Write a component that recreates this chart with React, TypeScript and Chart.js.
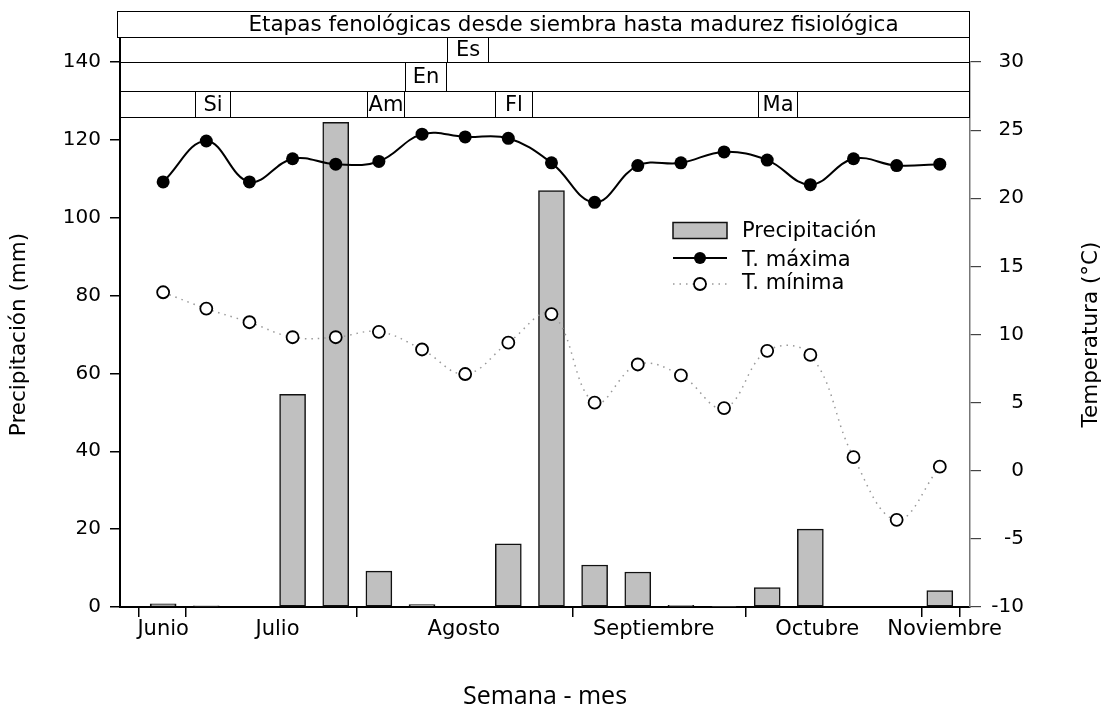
import React, { useEffect, useRef } from 'react';
import { Chart, registerables } from 'chart.js';
Chart.register(...registerables);

// ---- data ----
const WEEKS = [1, 2, 3, 4, 5, 6, 7, 8, 9, 10, 11, 12, 13, 14, 15, 16, 17, 18, 19];
const PRECIP = [0.8, 0.3, 0, 54.6, 124.5, 9.2, 0.6, 0, 16.2, 107.0, 10.8, 9.0, 0.4, 0.2, 5.0, 20.0, 0, 0, 4.2];
const TMAX = [21.2, 24.2, 21.2, 22.9, 22.5, 22.7, 24.7, 24.5, 24.4, 22.6, 19.7, 22.4, 22.6, 23.4, 22.8, 21.0, 22.9, 22.4, 22.5];
const TMIN = [13.1, 11.9, 10.9, 9.8, 9.8, 10.2, 8.9, 7.1, 9.4, 11.5, 5.0, 7.8, 7.0, 4.6, 8.8, 8.5, 1.0, -3.6, 0.3];

const MONTH_LABELS = ['Junio', 'Julio', 'Agosto', 'Septiembre', 'Octubre', 'Noviembre'];
const MONTH_POS = [1.0, 3.65, 7.97, 12.37, 16.16, 19.11];
const MONTH_BOUNDS = [0.44, 1.53, 5.49, 10.49, 14.5, 18.58, 19.46];

const STAGE_LABELS = ['Si', 'Am', 'Fl', 'Ma', 'En', 'Es'];
const STAGE_START = [1.74, 5.73, 8.69, 14.78, 6.61, 7.57];
const STAGE_END = [2.56, 6.58, 9.54, 15.68, 7.55, 8.53];
const STAGE_ROW = [0, 0, 0, 0, 1, 2];
const ROW_EDGES = [125.9, 132.6, 140, 146.3, 153.2]; // in precipitation units
const STAGE_TITLE = 'Etapas fenológicas desde siembra hasta madurez fisiológica';
const STAGE_TITLE_X = 10.51;

const PRECIP_MAX = 140;
const TEMP_MIN = -10;
const TEMP_MAX = 30;
const X_MAX = 19.7;

const FONT = '"DejaVu Sans", sans-serif';

export default function App() {
  const ref = useRef<HTMLCanvasElement>(null);

  useEffect(() => {
    document.body.style.margin = '0';
    const canvas = ref.current!;

    const overlay = {
      id: 'overlay',
      afterDraw(chart: any) {
        const { ctx, chartArea: ca, scales } = chart;
        const xs = scales.x;
        const ys = scales.y;
        ctx.save();
        // stage rows
        ctx.strokeStyle = '#000';
        ctx.lineWidth = 1;
        const yp = (v: number) => Math.round(ys.getPixelForValue(v)) + 0.5;
        for (let i = 0; i < 4; i++) {
          ctx.beginPath();
          ctx.moveTo(ca.left, yp(ROW_EDGES[i]));
          ctx.lineTo(ca.right, yp(ROW_EDGES[i]));
          ctx.stroke();
        }
        ctx.beginPath();
        ctx.moveTo(ca.right - 0.5, yp(ROW_EDGES[3]));
        ctx.lineTo(ca.right - 0.5, yp(ROW_EDGES[0]));
        ctx.stroke();
        ctx.lineWidth = 2;
        ctx.beginPath();
        ctx.moveTo(ca.left, yp(ROW_EDGES[3]));
        ctx.lineTo(ca.left, ys.getPixelForValue(ROW_EDGES[2]));
        ctx.stroke();
        // title box
        ctx.lineWidth = 1;
        const tTop = yp(ROW_EDGES[4]);
        const tBot = yp(ROW_EDGES[3]);
        ctx.strokeRect(ca.left - 2.5, tTop, ca.right - ca.left + 2, tBot - tTop);
        ctx.fillStyle = '#000';
        ctx.font = `21.5px ${FONT}`;
        ctx.textAlign = 'center';
        ctx.textBaseline = 'middle';
        ctx.fillText(STAGE_TITLE, xs.getPixelForValue(STAGE_TITLE_X), (tTop + tBot) / 2 + 1);
        // stage boxes
        ctx.font = `21px ${FONT}`;
        STAGE_LABELS.forEach((lab, i) => {
          const r = STAGE_ROW[i];
          const x0 = Math.round(xs.getPixelForValue(STAGE_START[i])) + 0.5;
          const x1 = Math.round(xs.getPixelForValue(STAGE_END[i])) + 0.5;
          const y0 = yp(ROW_EDGES[r + 1]);
          const y1 = yp(ROW_EDGES[r]);
          ctx.fillStyle = '#fff';
          ctx.fillRect(x0, y0, x1 - x0, y1 - y0);
          ctx.strokeRect(x0, y0, x1 - x0, y1 - y0);
          ctx.fillStyle = '#000';
          ctx.fillText(lab, (x0 + x1) / 2, (y0 + y1) / 2 + 1);
        });

        // legend
        const lx = ca.left + 553;
        const tx = ca.left + 622;
        const rows = [ca.top + 168.5, ca.top + 197.5, ca.top + 221];
        ctx.fillStyle = '#c0c0c0';
        ctx.fillRect(lx, rows[0] - 8, 54, 16);
        ctx.lineWidth = 1.5;
        ctx.strokeStyle = '#111';
        ctx.strokeRect(lx, rows[0] - 8, 54, 16);
        // T max
        ctx.strokeStyle = '#000';
        ctx.lineWidth = 2;
        ctx.beginPath();
        ctx.moveTo(lx, rows[1] - 1.5);
        ctx.lineTo(lx + 54, rows[1] - 1.5);
        ctx.stroke();
        ctx.fillStyle = '#000';
        ctx.beginPath();
        ctx.arc(lx + 27, rows[1] - 1.5, 6, 0, Math.PI * 2);
        ctx.fill();
        // T min
        ctx.strokeStyle = '#999';
        ctx.lineWidth = 1.5;
        ctx.setLineDash([1.5, 5]);
        ctx.beginPath();
        ctx.moveTo(lx, rows[2] + 1);
        ctx.lineTo(lx + 54, rows[2] + 1);
        ctx.stroke();
        ctx.setLineDash([]);
        ctx.fillStyle = '#fff';
        ctx.strokeStyle = '#000';
        ctx.lineWidth = 1.8;
        ctx.beginPath();
        ctx.arc(lx + 27, rows[2] + 1, 6, 0, Math.PI * 2);
        ctx.fill();
        ctx.stroke();
        ctx.fillStyle = '#000';
        ctx.textAlign = 'left';
        ctx.font = `21px ${FONT}`;
        ctx.fillText('Precipitación', tx, rows[0] + 1);
        ctx.fillText('T. máxima', tx, rows[1] + 1);
        ctx.fillText('T. mínima', tx, rows[2] + 1);

        // right axis title
        ctx.save();
        ctx.translate(1091, (ca.top + ca.bottom) / 2);
        ctx.rotate(-Math.PI / 2);
        ctx.textAlign = 'center';
        ctx.textBaseline = 'middle';
        ctx.font = `21.5px ${FONT}`;
        ctx.fillText('Temperatura (°C)', 0, 0);
        ctx.restore();
        ctx.restore();
      },
    };

    const chart = new Chart(canvas, {
      type: 'bar',
      data: {
        datasets: [
          {
            type: 'line',
            label: 'T. máxima',
            data: WEEKS.map((w, i) => ({ x: w, y: TMAX[i] })),
            xAxisID: 'x',
            yAxisID: 'y1',
            borderColor: '#000',
            borderWidth: 2,
            tension: 0.4,
            pointRadius: 6.5,
            pointBackgroundColor: '#000',
            pointBorderColor: '#000',
            pointBorderWidth: 0,
            order: 0,
          },
          {
            type: 'line',
            label: 'T. mínima',
            data: WEEKS.map((w, i) => ({ x: w, y: TMIN[i] })),
            xAxisID: 'x',
            yAxisID: 'y1',
            borderColor: '#999',
            borderWidth: 1.5,
            borderDash: [1.5, 5],
            tension: 0.4,
            pointRadius: 6,
            pointBackgroundColor: '#fff',
            pointBorderColor: '#000',
            pointBorderWidth: 1.8,
            order: 1,
          },
          {
            type: 'bar',
            label: 'Precipitación',
            data: WEEKS.map((w, i) => ({ x: w, y: PRECIP[i] })),
            xAxisID: 'x',
            yAxisID: 'y',
            backgroundColor: '#c0c0c0',
            borderColor: '#111',
            borderWidth: 1.5,
            borderSkipped: false,
            barThickness: 26,
            order: 2,
          },
        ] as any,
      },
      options: {
        responsive: false,
        animation: false,
        devicePixelRatio: 1,
        layout: { padding: { top: 62, left: 0, right: 88, bottom: 0 } },
        plugins: { legend: { display: false }, tooltip: { enabled: false } },
        scales: {
          x: {
            type: 'linear',
            position: 'bottom',
            min: 0,
            max: X_MAX,
            offset: false,
            weight: 0,
            afterBuildTicks: (axis: any) => {
              axis.ticks = MONTH_BOUNDS.map((v) => ({ value: v }));
            },
            afterFit: (axis: any) => {
              axis.height = 10;
            },
            ticks: { display: false },
            grid: {
              offset: false,
              drawOnChartArea: false,
              drawTicks: true,
              tickLength: 10,
              color: '#000',
              lineWidth: 1.5,
            },
            border: { display: true, color: '#000', width: 2 },
          },
          xm: {
            type: 'linear',
            position: 'bottom',
            min: 0,
            max: X_MAX,
            offset: false,
            weight: 1,
            afterBuildTicks: (axis: any) => {
              axis.ticks = MONTH_POS.map((v) => ({ value: v }));
            },
            afterFit: (axis: any) => {
              axis.height = 92;
            },
            ticks: {
              autoSkip: false,
              maxRotation: 0,
              padding: 0,
              color: '#000',
              font: { family: FONT, size: 21 },
              callback: (_v: any, i: number) => MONTH_LABELS[i] ?? '',
            },
            grid: { display: false, drawTicks: false, offset: false },
            border: { display: false },
            title: {
              display: true,
              text: 'Semana - mes',
              color: '#000',
              font: { family: '"Open Sans", sans-serif', size: 25, lineHeight: 1.0 },
              padding: { top: 0, bottom: 0 },
            },
          },
          y: {
            type: 'linear',
            position: 'left',
            min: 0,
            max: PRECIP_MAX,
            afterFit: (axis: any) => {
              axis.width = 120;
            },
            ticks: {
              stepSize: 20,
              padding: 9,
              color: '#000',
              font: { family: FONT, size: 20 },
            },
            grid: { drawOnChartArea: false, tickLength: 10, color: '#000', lineWidth: 1.5 },
            border: { display: true, color: '#000', width: 2 },
            title: {
              display: true,
              text: 'Precipitación (mm)',
              color: '#000',
              font: { family: FONT, size: 21.5 },
              padding: { top: 7, bottom: 0 },
            },
          },
          y1: {
            type: 'linear',
            position: 'right',
            min: TEMP_MIN,
            max: TEMP_MAX,
            afterFit: (axis: any) => {
              axis.width = 54;
            },
            ticks: {
              stepSize: 5,
              padding: 11,
              crossAlign: 'far',
              color: '#000',
              font: { family: FONT, size: 20 },
            },
            grid: { drawOnChartArea: false, tickLength: 11, color: '#444', lineWidth: 1.2 },
            border: { display: true, color: '#777', width: 1.5 },
          },
        },
      } as any,
      plugins: [overlay],
    });
    return () => chart.destroy();
  }, []);

  return (
    <div style={{ width: 1112, height: 709, overflow: 'hidden', background: '#fff' }}>
      <canvas ref={ref} width={1112} height={709} style={{ display: 'block' }} />
    </div>
  );
}
